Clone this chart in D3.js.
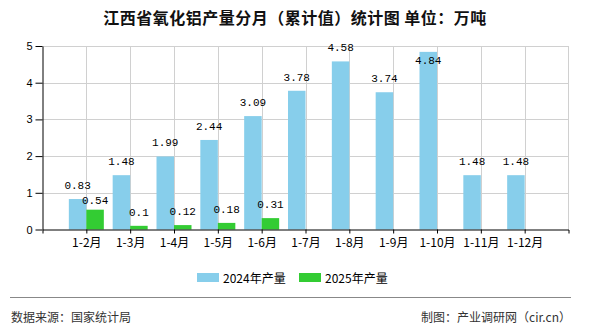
<!DOCTYPE html>
<html><head><meta charset="utf-8">
<script src="https://cdn.jsdelivr.net/npm/d3@7"></script>
<style>body{margin:0;background:#fff}svg{display:block}</style>
</head><body>
<svg id="c" width="590" height="330"></svg>
<script>
const categories = ["1-2月","1-3月","1-4月","1-5月","1-6月","1-7月","1-8月","1-9月","1-10月","1-11月","1-12月"];
const values2024 = [0.83,1.48,1.99,2.44,3.09,3.78,4.58,3.74,4.84,1.48,1.48];
const values2025 = [0.54,0.1,0.12,0.18,0.31,null,null,null,null,null,null];
const seriesNames = ["2024年产量","2025年产量"];
const yTicks = [0,1,2,3,4,5];
const title = "江西省氧化铝产量分月（累计值）统计图 单位：万吨";
const sourceText = "数据来源：国家统计局";
const creditText = "制图：产业调研网（cir.cn）";

const colors = ["#87CEEB","#33CC33"];
const cjk = "SimSun,'Noto Sans CJK SC',sans-serif";
const svg = d3.select("#c");
const L = 42.5, R = 568.5, B = 229.5, T = 46;
const x = d3.scalePoint().domain(categories).range([L, R]).padding(1);
const y = d3.scaleLinear().domain([0,5]).range([B, T]);
const bw = 17.5;

// title
svg.append("text").attr("x",295).attr("y",17).attr("text-anchor","middle")
  .attr("dominant-baseline","central").attr("font-family",cjk).attr("font-size",16)
  .attr("font-weight","bold").attr("letter-spacing","0.5px").attr("fill","#111").text(title);

// grid
const g = svg.append("g");
g.selectAll("line.h").data(yTicks.filter(d=>d>0)).join("line")
  .attr("x1",L).attr("x2",R).attr("y1",d=>Math.round(y(d))+0.5).attr("y2",d=>Math.round(y(d))+0.5)
  .attr("stroke","#d0d0d0");
g.selectAll("line.v").data(categories).join("line")
  .attr("x1",d=>Math.round(x(d))+0.5).attr("x2",d=>Math.round(x(d))+0.5).attr("y1",T).attr("y2",B)
  .attr("stroke","#d0d0d0");
g.append("line").attr("x1",R).attr("x2",R).attr("y1",T).attr("y2",B).attr("stroke","#d0d0d0");

// bars
svg.append("g").selectAll("rect").data(values2024).join("rect")
  .attr("x",(d,i)=>x(categories[i])-bw).attr("width",bw)
  .attr("y",d=>y(d)).attr("height",d=>B-y(d)).attr("fill",colors[0]);
svg.append("g").selectAll("rect").data(values2025.map((v,i)=>({v,i})).filter(d=>d.v!=null)).join("rect")
  .attr("x",d=>x(categories[d.i])).attr("width",bw)
  .attr("y",d=>y(d.v)).attr("height",d=>B-y(d.v)).attr("fill",colors[1]);

// labels
const lf = "'Liberation Mono',monospace";
const blueY = values2024.map(v=>{const t=y(v)-13; return t<T? y(v)+9 : t;});
svg.append("g").selectAll("text").data(values2024).join("text")
  .attr("x",(d,i)=>x(categories[i])-bw/2).attr("y",(d,i)=>blueY[i])
  .attr("text-anchor","middle").attr("dominant-baseline","central")
  .attr("font-family",lf).attr("font-size",11).attr("fill","#000").text(d=>d);
svg.append("g").selectAll("text").data(values2025.map((v,i)=>({v,i})).filter(d=>d.v!=null)).join("text")
  .attr("x",d=>x(categories[d.i])+bw/2).attr("y",d=>Math.max(y(d.v)-13, blueY[d.i]+15))
  .attr("text-anchor","middle").attr("dominant-baseline","central")
  .attr("font-family",lf).attr("font-size",11).attr("fill","#000").text(d=>d.v);

// axes
const xa = svg.append("g").attr("transform",`translate(0,${B})`)
  .call(d3.axisBottom(x).tickSize(4).tickSizeOuter(4));
xa.selectAll("text").attr("font-family",cjk).attr("font-size",12).attr("fill","#000").attr("dy","0.9em");
const ya = svg.append("g").attr("transform",`translate(${L},0)`)
  .call(d3.axisLeft(y).tickValues(yTicks).tickSize(7).tickSizeOuter(0).tickFormat(d3.format("d")));
ya.selectAll("text").attr("font-family","Arial,'Liberation Sans',sans-serif").attr("font-size",11).attr("fill","#000").attr("x",-10);
svg.selectAll(".domain, .tick line").attr("stroke","#000");

// legend
const lg = svg.append("g");
const lx = [197,299];
seriesNames.forEach((n,i)=>{
  lg.append("rect").attr("x",lx[i]).attr("y",273).attr("width",22).attr("height",9).attr("fill",colors[i]);
  lg.append("text").attr("x",lx[i]+26).attr("y",277.5).attr("dominant-baseline","central")
    .attr("font-family","'Noto Sans CJK SC',sans-serif").attr("font-size",12).attr("fill","#000").text(n);
});

// footer
svg.append("line").attr("x1",10).attr("x2",571).attr("y1",297.5).attr("y2",297.5).attr("stroke","#888");
svg.append("text").attr("x",11).attr("y",316).attr("dominant-baseline","central")
  .attr("font-family",cjk).attr("font-size",12).attr("fill","#333").text(sourceText);
svg.append("text").attr("x",571).attr("y",316).attr("dominant-baseline","central").attr("text-anchor","end")
  .attr("font-family",cjk).attr("font-size",12).attr("fill","#333").text(creditText);
</script>
</body></html>
